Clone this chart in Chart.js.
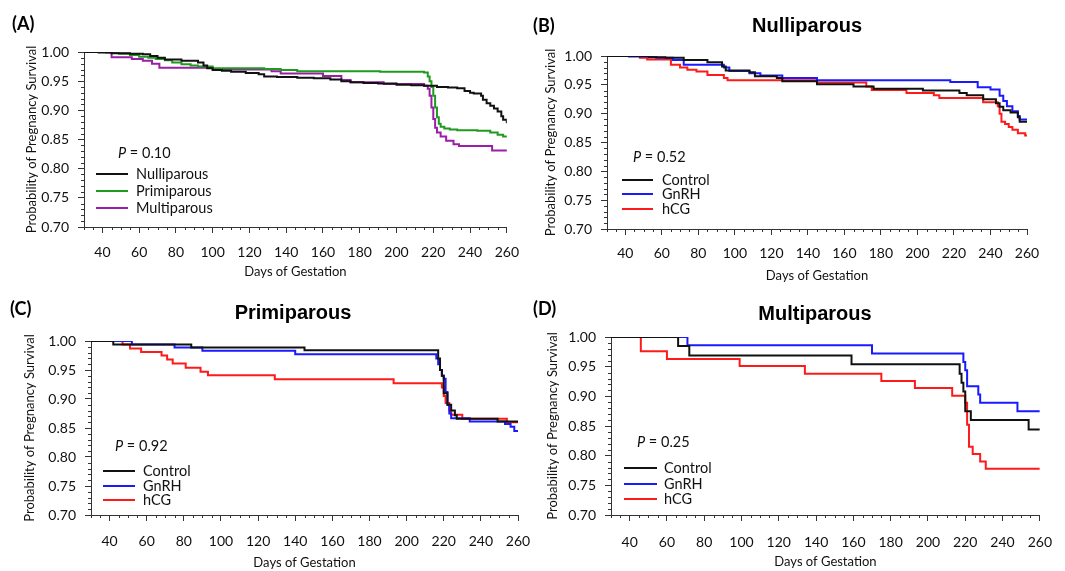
<!DOCTYPE html>
<html>
<head>
<meta charset="utf-8">
<script src="https://cdn.jsdelivr.net/npm/chart.js@4.4.1/dist/chart.umd.min.js"></script>
<style>
  body { margin: 0; background: #fff; width: 1065px; height: 571px; overflow: hidden; position: relative; font-family: Lato, "Open Sans", sans-serif; color: #111; }
  canvas { position: absolute; }
  .txt { position: absolute; white-space: nowrap; line-height: 20px; height: 20px; }
  .lab { font-weight: bold; font-size: 18px; color: #000; }
  .ttl { font-family: "Liberation Sans", Arial, sans-serif; font-weight: bold; font-size: 20px; color: #000; transform: translateX(-50%); }
  .leg { font-size: 14.5px; color: #111; }
  .swatch { position: absolute; height: 0; border-top: 2px solid; }
</style>
</head>
<body>
<canvas id="cA" width="530" height="285" style="left:0;top:0"></canvas>
<canvas id="cB" width="535" height="285" style="left:530px;top:0"></canvas>
<canvas id="cC" width="545" height="286" style="left:0;top:285px"></canvas>
<canvas id="cD" width="535" height="286" style="left:530px;top:285px"></canvas>

<script>
// axis ticks
const xTicks = [40, 60, 80, 100, 120, 140, 160, 180, 200, 220, 240, 260];
const yTicks = [0.70, 0.75, 0.80, 0.85, 0.90, 0.95, 1.00];

// (A) by parity
const daysA_nulli = [30, 38, 45, 55, 62, 66, 70, 74, 83, 92, 95, 97, 100, 105, 110, 118, 125, 128, 135, 146, 155, 164, 170, 175, 182, 190, 200, 208, 215, 222, 228, 233, 237, 240, 242, 246, 247, 249, 251, 253, 255, 257, 258, 260];
const survA_nulli = [1.000, 0.999, 0.998, 0.997, 0.996, 0.993, 0.990, 0.987, 0.985, 0.982, 0.977, 0.972, 0.969, 0.968, 0.966, 0.964, 0.962, 0.958, 0.957, 0.956, 0.955, 0.953, 0.950, 0.948, 0.947, 0.946, 0.944, 0.943, 0.942, 0.940, 0.939, 0.938, 0.933, 0.930, 0.929, 0.925, 0.918, 0.912, 0.908, 0.903, 0.898, 0.890, 0.884, 0.878];
const daysA_primi = [30, 42, 49, 55, 60, 65, 69, 74, 78, 83, 88, 92, 100, 128, 137, 146, 191, 215, 217, 218, 219, 220, 221, 222, 223, 224, 226, 229, 233, 244, 251, 255, 258, 260];
const survA_primi = [1.000, 0.999, 0.997, 0.995, 0.992, 0.990, 0.988, 0.986, 0.982, 0.979, 0.977, 0.975, 0.972, 0.971, 0.969, 0.967, 0.966, 0.965, 0.958, 0.950, 0.940, 0.925, 0.905, 0.888, 0.877, 0.872, 0.869, 0.867, 0.866, 0.865, 0.862, 0.858, 0.855, 0.854];
const daysA_multi = [30, 45, 56, 62, 67, 71, 100, 132, 137, 160, 170, 175, 193, 215, 217, 218, 219, 220, 221, 222, 224, 227, 231, 234, 252, 260];
const survA_multi = [1.000, 0.991, 0.988, 0.985, 0.980, 0.973, 0.970, 0.967, 0.963, 0.959, 0.952, 0.948, 0.945, 0.942, 0.937, 0.925, 0.905, 0.885, 0.870, 0.862, 0.855, 0.848, 0.842, 0.839, 0.831, 0.830];

// (B) nulliparous
const daysB_ctrl = [30, 53, 62, 72, 85, 93, 95, 108, 111, 123, 126, 145, 165, 176, 203, 223, 227, 236, 243, 245, 247, 251, 255, 256, 260];
const survB_ctrl = [1.000, 0.998, 0.997, 0.993, 0.989, 0.982, 0.975, 0.972, 0.965, 0.962, 0.956, 0.951, 0.947, 0.943, 0.940, 0.936, 0.932, 0.925, 0.918, 0.912, 0.906, 0.902, 0.894, 0.886, 0.885];
const daysB_gnrh = [30, 42, 57, 66, 72, 94, 97, 108, 114, 126, 145, 218, 233, 240, 245, 247, 249, 252, 255, 256, 260];
const survB_gnrh = [1.000, 0.999, 0.997, 0.993, 0.985, 0.980, 0.974, 0.970, 0.966, 0.962, 0.958, 0.955, 0.946, 0.942, 0.931, 0.922, 0.913, 0.904, 0.896, 0.890, 0.889];
const daysB_hcg = [30, 48, 52, 65, 70, 74, 79, 85, 94, 96, 145, 172, 175, 194, 209, 212, 236, 244, 245, 246, 248, 250, 252, 255, 259, 260];
const survB_hcg = [1.000, 0.997, 0.994, 0.985, 0.980, 0.976, 0.973, 0.967, 0.962, 0.958, 0.954, 0.947, 0.941, 0.936, 0.932, 0.927, 0.920, 0.913, 0.900, 0.886, 0.882, 0.877, 0.872, 0.866, 0.862, 0.862];

// (C) primiparous
const daysC_ctrl = [30, 42, 84, 145, 217, 218, 219, 220, 222, 224, 226, 227, 249, 260];
const survC_ctrl = [1.000, 0.994, 0.989, 0.984, 0.970, 0.950, 0.940, 0.910, 0.890, 0.880, 0.872, 0.866, 0.861, 0.860];
const daysC_gnrh = [30, 52, 75, 90, 140, 216, 217, 218, 219, 220, 221, 222, 223, 224, 234, 253, 256, 258, 260];
const survC_gnrh = [1.000, 0.994, 0.989, 0.983, 0.977, 0.970, 0.960, 0.950, 0.940, 0.935, 0.912, 0.890, 0.875, 0.867, 0.861, 0.857, 0.852, 0.845, 0.844];
const daysC_hcg = [30, 47, 51, 57, 68, 71, 74, 81, 89, 93, 129, 193, 219, 220, 221, 223, 224, 230, 254, 260];
const survC_hcg = [1.000, 0.994, 0.987, 0.981, 0.975, 0.968, 0.961, 0.954, 0.947, 0.941, 0.934, 0.927, 0.920, 0.905, 0.893, 0.880, 0.873, 0.866, 0.860, 0.860];

// (D) multiparous
const daysD_ctrl = [30, 66, 72, 159, 217, 218, 219, 220, 223, 254, 260];
const survD_ctrl = [1.000, 0.985, 0.969, 0.954, 0.938, 0.923, 0.908, 0.875, 0.860, 0.844, 0.844];
const daysD_gnrh = [30, 71, 170, 219, 220, 221, 227, 228, 248, 260];
const survD_gnrh = [1.000, 0.986, 0.972, 0.958, 0.944, 0.917, 0.903, 0.889, 0.875, 0.875];
const daysD_hcg = [30, 46, 60, 99, 134, 175, 193, 213, 220, 221, 222, 224, 228, 231, 260];
const survD_hcg = [1.000, 0.976, 0.963, 0.951, 0.938, 0.926, 0.914, 0.901, 0.889, 0.852, 0.815, 0.803, 0.790, 0.778, 0.778];

const BLACK = '#111111', GREEN = '#1f9a1f', PURPLE = '#9b1ea8', BLUE = '#1a1aff', RED = '#ff1a1a';
const tickFont = { family: 'Lato', size: 14 };
const titleFont = { family: 'Lato', size: 13 };

// small ticks every 5 days and every 0.01
const minorTicks = {
    id: 'minorTicks',
    afterDraw(chart) {
        const { ctx, scales: { x, y } } = chart;
        ctx.save();
        ctx.strokeStyle = '#333';
        ctx.lineWidth = 1;
        ctx.beginPath();
        for (let d = 30; d <= 260; d += 5) {
            if (xTicks.includes(d)) continue;
            const px = Math.round(x.getPixelForValue(d)) + 0.5;
            ctx.moveTo(px, y.bottom);
            ctx.lineTo(px, y.bottom + 3);
        }
        for (let k = 70; k <= 100; k++) {
            if (k % 5 === 0) continue;
            const py = Math.round(y.getPixelForValue(k / 100)) + 0.5;
            ctx.moveTo(x.left, py);
            ctx.lineTo(x.left - 3, py);
        }
        ctx.stroke();
        ctx.restore();
    }
};

function series(days, surv, color) {
    return {
        data: days.map((d, i) => ({ x: d, y: surv[i] })),
        borderColor: color,
        borderWidth: 2,
        pointRadius: 0,
        stepped: true,
        fill: false
    };
}

function makePanel(id, datasets, box) {
    new Chart(document.getElementById(id), {
        type: 'line',
        data: { datasets: datasets },
        plugins: [minorTicks],
        options: {
            responsive: false,
            animation: false,
            devicePixelRatio: 1,
            layout: { padding: { left: 0, top: box.top, right: box.right, bottom: 0 } },
            plugins: { legend: { display: false }, tooltip: { enabled: false } },
            scales: {
                x: {
                    type: 'linear',
                    min: 30,
                    max: 260,
                    afterBuildTicks: s => { s.ticks = xTicks.map(v => ({ value: v })); },
                    afterFit: s => { s.height = box.xh; },
                    ticks: { font: tickFont, color: '#111', padding: box.xpad, maxRotation: 0, autoSkip: false },
                    grid: { drawOnChartArea: false, tickLength: 6, color: '#333' },
                    border: { color: '#333', width: 1 },
                    title: { display: true, text: 'Days of Gestation', font: titleFont, color: '#111', padding: { top: 0, bottom: box.xtp } }
                },
                y: {
                    min: 0.7,
                    max: 1.0,
                    afterBuildTicks: s => { s.ticks = yTicks.map(v => ({ value: v })); },
                    afterFit: s => { s.width = box.left; },
                    ticks: { font: tickFont, color: '#111', padding: 9, callback: v => v.toFixed(2) },
                    grid: { drawOnChartArea: false, tickLength: 6, color: '#333' },
                    border: { color: '#333', width: 1 },
                    title: { display: true, text: 'Probability of Pregnancy Survival', font: titleFont, color: '#111', padding: { top: box.ytp, bottom: 0 } }
                }
            }
        }
    });
}

makePanel('cA', [
    series(daysA_nulli, survA_nulli, BLACK),
    series(daysA_primi, survA_primi, GREEN),
    series(daysA_multi, survA_multi, PURPLE)
], { left: 84, top: 52, right: 20, xh: 58, xpad: 11, xtp: 5, ytp: 24 });

makePanel('cB', [
    series(daysB_ctrl, survB_ctrl, BLACK),
    series(daysB_gnrh, survB_gnrh, BLUE),
    series(daysB_hcg, survB_hcg, RED)
], { left: 77, top: 56, right: 38, xh: 56, xpad: 10, xtp: 1, ytp: 13 });

makePanel('cC', [
    series(daysC_ctrl, survC_ctrl, BLACK),
    series(daysC_gnrh, survC_gnrh, BLUE),
    series(daysC_hcg, survC_hcg, RED)
], { left: 91, top: 56, right: 27, xh: 56, xpad: 12, xtp: 0, ytp: 22 });

makePanel('cD', [
    series(daysD_ctrl, survD_ctrl, BLACK),
    series(daysD_gnrh, survD_gnrh, BLUE),
    series(daysD_hcg, survD_hcg, RED)
], { left: 81, top: 52, right: 23, xh: 56, xpad: 13, xtp: 1, ytp: 15 });

// panel labels, titles and legends as text
function addText(cls, text, x, y) {
    const el = document.createElement('div');
    el.className = 'txt ' + cls;
    el.innerHTML = text;
    el.style.left = x + 'px';
    el.style.top = (y - 10) + 'px';
    document.body.appendChild(el);
}

function addLegend(p, x, y, rows, lx1, lx2, tx) {
    addText('leg', '<i>P</i> = ' + p, x, y);
    rows.forEach(r => {
        const sw = document.createElement('div');
        sw.className = 'swatch';
        sw.style.left = lx1 + 'px';
        sw.style.width = (lx2 - lx1) + 'px';
        sw.style.top = (r.y - 1) + 'px';
        sw.style.borderColor = r.color;
        document.body.appendChild(sw);
        addText('leg', r.label, tx, r.y);
    });
}

addText('lab', '(A)', 12, 23);
addText('lab', '(B)', 533, 25);
addText('lab', '(C)', 10, 308);
addText('lab', '(D)', 533, 308);
addText('ttl', 'Nulliparous', 807, 25);
addText('ttl', 'Primiparous', 293, 312);
addText('ttl', 'Multiparous', 815, 313);

addLegend('0.10', 118, 153, [
    { label: 'Nulliparous', color: BLACK, y: 174 },
    { label: 'Primiparous', color: GREEN, y: 191 },
    { label: 'Multiparous', color: PURPLE, y: 208 }
], 96, 128, 136);
addLegend('0.52', 633, 157, [
    { label: 'Control', color: BLACK, y: 180 },
    { label: 'GnRH', color: BLUE, y: 194 },
    { label: 'hCG', color: RED, y: 209 }
], 622, 653, 662);
addLegend('0.92', 115, 446, [
    { label: 'Control', color: BLACK, y: 471 },
    { label: 'GnRH', color: BLUE, y: 486 },
    { label: 'hCG', color: RED, y: 500 }
], 103, 135, 143);
addLegend('0.25', 637, 442, [
    { label: 'Control', color: BLACK, y: 468 },
    { label: 'GnRH', color: BLUE, y: 484 },
    { label: 'hCG', color: RED, y: 499 }
], 624, 657, 664);
</script>
</body>
</html>
